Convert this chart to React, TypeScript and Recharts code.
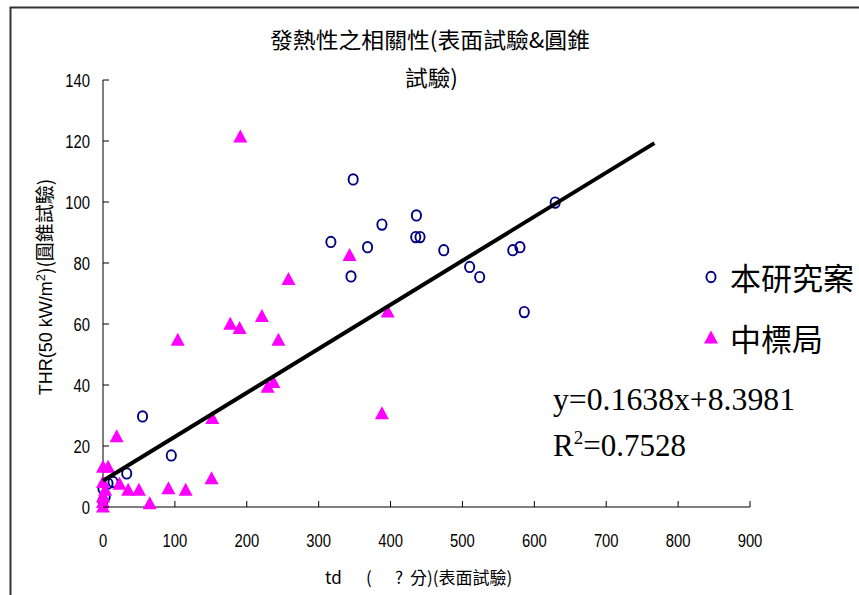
import React from "react";
import { ScatterChart, Scatter, XAxis, YAxis, Legend } from "recharts";

const xTicks = [0, 100, 200, 300, 400, 500, 600, 700, 800, 900];
const yTicks = [0, 20, 40, 60, 80, 100, 120, 140];

const seriesNames = ["本研究案", "中標局"];

// 本研究案 (hollow navy circles)
const studyX = [0, 3, 0, 7, 14, 33, 55, 95, 317, 345, 348, 368, 388, 436, 435, 441, 474, 510, 524, 570, 580, 586, 629];
const studyY = [2, 3.3, 6, 7.7, 8.2, 11, 29.7, 16.9, 86.9, 75.6, 107.4, 85.2, 92.6, 95.6, 88.5, 88.5, 84.2, 78.7, 75.4, 84.2, 85.2, 63.9, 99.8];

// 中標局 (magenta triangles)
const bureauX = [0, 0, 0, 3, 0, 0, 7, 19, 23, 35, 50, 65, 91, 104, 115, 151, 152, 177, 190, 191, 221, 229, 237, 244, 258, 343, 388, 396];
const bureauY = [0, 1.5, 3.3, 5.5, 8, 13, 13, 23, 7.5, 5.5, 5.5, 1.1, 6, 54.7, 5.5, 9.3, 29, 59.9, 58.5, 121.3, 62.5, 39.3, 40.8, 54.7, 74.6, 82.5, 30.6, 63.9];

// trend line end points
const trendX = [0, 767];
const trendY = [8.6, 119.3];

const toPoints = (xs: number[], ys: number[]) => xs.map((x, i) => ({ x, y: ys[i] }));

const NAVY = "#000080";
const MAGENTA = "#FF00FF";
const SANS = "'Liberation Sans', Arial, sans-serif";
const CJK = "'Noto Sans CJK TC', 'Liberation Sans', sans-serif";
const SERIF = "'Liberation Serif', 'Times New Roman', serif";

const CircleMark = (props: any) => {
  const { cx, cy } = props;
  if (cx == null || cy == null) return <g />;
  return <ellipse cx={cx} cy={cy} rx={4.6} ry={5.2} fill="none" stroke={NAVY} strokeWidth={1.9} />;
};

const TriangleMark = (props: any) => {
  const { cx, cy } = props;
  if (cx == null || cy == null) return <g />;
  return <path d={`M${cx},${cy - 7.5}L${cx + 7},${cy + 5.5}L${cx - 7},${cy + 5.5}Z`} fill={MAGENTA} />;
};

const NoMark = () => <g />;

const XTick = (props: any) => {
  const { x, y, payload } = props;
  return (
    <g>
      {payload.value !== 0 && <line x1={x} y1={y} x2={x} y2={y - 6} stroke="#000" />}
      <text
        transform={`translate(${x},${y + 40}) scale(0.78,1)`}
        textAnchor="middle"
        fontFamily={SANS}
        fontSize={19}
        fill="#000"
      >
        {payload.value}
      </text>
    </g>
  );
};

const YTick = (props: any) => {
  const { x, y, payload } = props;
  return (
    <g>
      <line x1={x} y1={y} x2={x + 6} y2={y} stroke="#000" />
      <text
        transform={`translate(${x - 13},${y + 7}) scale(0.78,1)`}
        textAnchor="end"
        fontFamily={SANS}
        fontSize={19}
        fill="#000"
      >
        {payload.value}
      </text>
    </g>
  );
};

const LegendBox = () => (
  <div>
    {seriesNames.map((name, i) => (
      <div key={name} style={{ display: "flex", alignItems: "center", height: 61 }}>
        <svg width={22} height={22} style={{ marginRight: 8 }}>
          {i === 0 ? (
            <ellipse cx={11} cy={11} rx={4.6} ry={5.2} fill="none" stroke={NAVY} strokeWidth={1.9} />
          ) : (
            <path d="M11,3.5L18,16.5L4,16.5Z" fill={MAGENTA} />
          )}
        </svg>
        <span style={{ fontFamily: CJK, fontSize: 31, color: "#000", lineHeight: 1 }}>{name}</span>
      </div>
    ))}
  </div>
);

export default function App() {
  return (
    <div style={{ position: "absolute", left: 0, top: 0, width: 859, height: 595, background: "#fff" }}>
      <ScatterChart width={859} height={595} margin={{ top: 80, right: 109, bottom: 58, left: 43 }}>
        <XAxis
          type="number"
          dataKey="x"
          domain={[0, 900]}
          ticks={xTicks}
          interval={0}
          height={30}
          tickSize={0}
          tickMargin={0}
          tickLine={false}
          tick={<XTick />}
          axisLine={{ stroke: "#000", strokeWidth: 1 }}
        />
        <YAxis
          type="number"
          dataKey="y"
          domain={[0, 140]}
          ticks={yTicks}
          interval={0}
          width={60}
          tickSize={0}
          tickMargin={0}
          tickLine={false}
          tick={<YTick />}
          axisLine={{ stroke: "#000", strokeWidth: 1 }}
        />
        <Scatter name={seriesNames[0]} data={toPoints(studyX, studyY)} fill={NAVY} shape={CircleMark} isAnimationActive={false} />
        <Scatter name={seriesNames[1]} data={toPoints(bureauX, bureauY)} fill={MAGENTA} shape={TriangleMark} isAnimationActive={false} />
        <Scatter
          name="trend"
          data={toPoints(trendX, trendY)}
          line={{ stroke: "#000", strokeWidth: 4 }}
          shape={NoMark}
          legendType="none"
          isAnimationActive={false}
        />
        <Legend
          layout="vertical"
          align="center"
          verticalAlign="middle"
          content={<LegendBox />}
          wrapperStyle={{ left: 700, top: 246, width: 159 }}
        />
      </ScatterChart>
      <svg width={859} height={595} style={{ position: "absolute", left: 0, top: 0, pointerEvents: "none" }}>
        <path d="M10.5,595V7.5H859" fill="none" stroke="#333" strokeWidth={2} />
        <text x={270} y={48} fontFamily={CJK} fontSize={22} textLength={320} lengthAdjust="spacingAndGlyphs" fill="#000">
          發熱性之相關性(表面試驗&amp;圓錐
        </text>
        <text x={405} y={86} fontFamily={CJK} fontSize={22} textLength={53} lengthAdjust="spacingAndGlyphs" fill="#000">
          試驗)
        </text>
        <text transform="translate(52,287) rotate(-90)" textAnchor="middle" fontFamily={SANS} fontSize={18} fill="#000">
          THR(50 kW/m<tspan dy={-7} fontSize={13}>2</tspan>
          <tspan dy={7} fontFamily={CJK} fontSize={19}>)(圓錐試驗)</tspan>
        </text>
        <text y={584} fontFamily={CJK} fontSize={17} fill="#000">
          <tspan x={325}>td</tspan>
          <tspan x={366}>(</tspan>
          <tspan x={395}>?</tspan>
          <tspan x={410}>分)(表面試驗)</tspan>
        </text>
        <text x={553} y={410} fontFamily={SERIF} fontSize={31} textLength={242} lengthAdjust="spacingAndGlyphs" fill="#000">
          y=0.1638x+8.3981
        </text>
        <text x={553} y={456} fontFamily={SERIF} fontSize={31} fill="#000">
          R<tspan dy={-12} fontSize={19}>2</tspan>
          <tspan dy={12}>=0.7528</tspan>
        </text>
      </svg>
    </div>
  );
}
